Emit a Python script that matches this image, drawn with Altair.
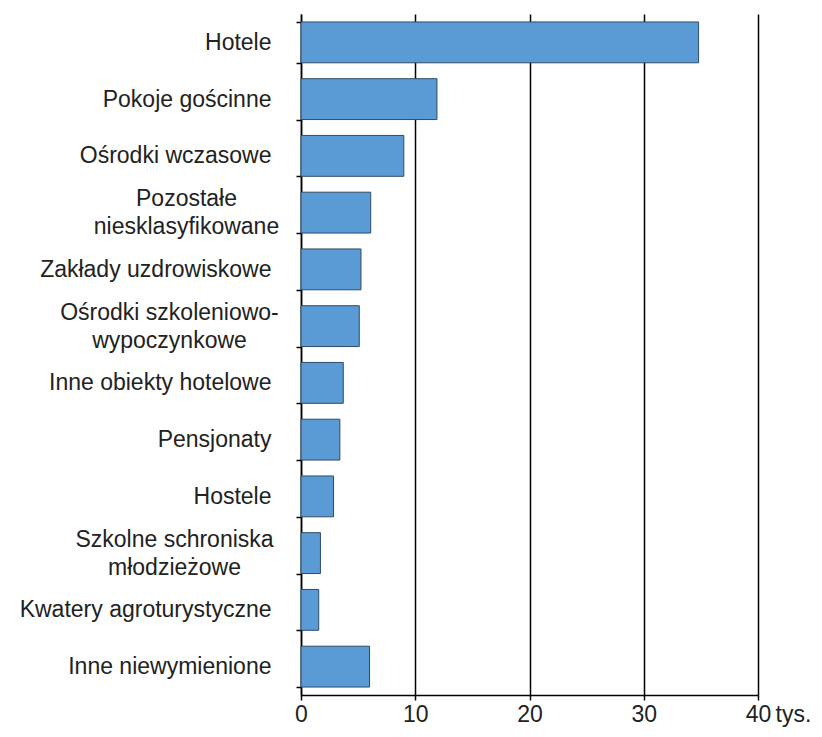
import altair as alt
import pandas as pd

categories = [
    "Hotele",
    "Pokoje gościnne",
    "Ośrodki wczasowe",
    "Pozostałe\nniesklasyfikowane",
    "Zakłady uzdrowiskowe",
    "Ośrodki szkoleniowo-\nwypoczynkowe",
    "Inne obiekty hotelowe",
    "Pensjonaty",
    "Hostele",
    "Szkolne schroniska\nmłodzieżowe",
    "Kwatery agroturystyczne",
    "Inne niewymienione",
]
values = [34.8, 11.9, 9.0, 6.1, 5.25, 5.1, 3.7, 3.4, 2.85, 1.7, 1.55, 6.0]
x_ticks = [0, 10, 20, 30, 40]
unit_label = "tys."

df = pd.DataFrame({"kategoria": categories, "wartosc": values})

FONT = "Liberation Sans"
MULTI = "indexof(datum.label, '\\n') >= 0"

chart = (
    alt.Chart(df)
    .mark_bar(fill="#5B9BD5", stroke="#2F4B66", strokeWidth=1)
    .encode(
        y=alt.Y(
            "kategoria:N",
            sort=categories,
            scale=alt.Scale(paddingInner=0.28, paddingOuter=0.14),
            axis=alt.Axis(
                title=None,
                labelExpr="split(datum.label, '\\n')",
                labelFont=FONT,
                labelFontSize=23,
                labelColor="#222222",
                labelLineHeight=28,
                labelAlign={
                    "condition": {"test": MULTI, "value": "center"},
                    "value": "right",
                },
                labelOffset={
                    "condition": {"test": MULTI, "value": -14},
                    "value": 0,
                },
                labelPadding={
                    "condition": [
                        {"test": "indexof(datum.label, 'Pozosta') >= 0", "value": 110},
                        {"test": "indexof(datum.label, 'szkoleniowo') >= 0", "value": 127},
                        {"test": "indexof(datum.label, 'Szkolne') >= 0", "value": 122},
                    ],
                    "value": 25,
                },
                labelLimit=400,
                tickSize=5,
                tickBand="extent",
                tickColor="black",
                tickWidth=1.5,
                domainColor="black",
                domainWidth=1.5,
                grid=False,
            ),
        ),
        x=alt.X(
            "wartosc:Q",
            scale=alt.Scale(domain=[0, 40], nice=False),
            axis=alt.Axis(
                values=x_ticks,
                title=unit_label,
                titleX=474,
                titleY=8,
                titleAlign="left",
                titleBaseline="top",
                titleFont=FONT,
                titleFontSize=23,
                titleFontWeight="normal",
                titleColor="#222222",
                labelFont=FONT,
                labelFontSize=23,
                labelColor="#222222",
                labelPadding=3,
                labelFlush=False,
                tickSize=5,
                tickColor="black",
                tickWidth=1.5,
                domainColor="black",
                domainWidth=1.5,
                grid=True,
                gridColor="black",
                gridWidth=1.5,
                gridOpacity=1,
            ),
        ),
    )
    .properties(
        width=457,
        height=681,
        autosize=alt.AutoSizeParams(type="none"),
        padding={"left": 293, "top": 6, "right": 56, "bottom": 34},
    )
    .configure_view(stroke=None)
)

chart.save("out.html", embed_options={"renderer": "svg", "actions": False})
